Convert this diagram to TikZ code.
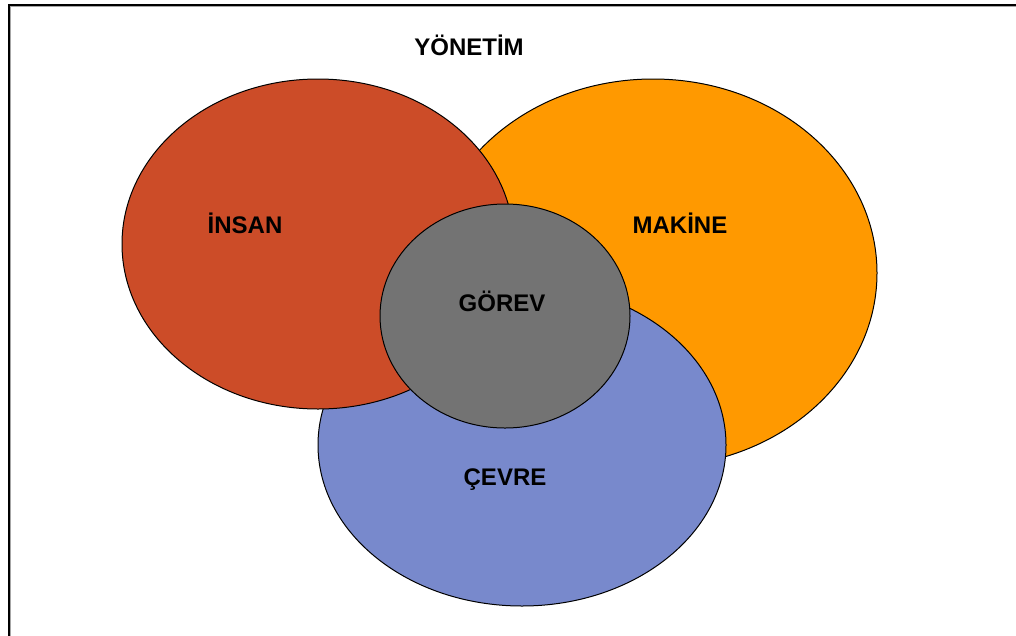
\documentclass[tikz,border=0pt]{standalone}
\usepackage{fontspec}
\setmainfont{Liberation Sans}
\usetikzlibrary{shapes.geometric}

\definecolor{insanred}{RGB}{204,76,40}
\definecolor{makineorange}{RGB}{255,153,0}
\definecolor{cevreblue}{RGB}{120,137,204}
\definecolor{gorevgrey}{RGB}{115,115,115}

\tikzset{
  area/.style={ellipse, draw=black, line width=1pt, inner sep=0pt},
  caption/.style={anchor=base, inner sep=0pt, font=\fontsize{24}{28}\selectfont\bfseries}
}

\begin{document}
\begin{tikzpicture}[x=1pt, y=-1pt]
  \useasboundingbox (0,0) rectangle (1016,635);

  % frame (open at the right and bottom)
  \coordinate (ftl) at (9,5);
  \coordinate (fbl) at (9,640);
  \coordinate (ftr) at (1020,5);
  \draw[line width=1.2pt, gray!70] ([shift={(1.3,1.3)}]fbl) -- ([shift={(1.3,1.3)}]ftl) -- ([shift={(1.3,1.3)}]ftr);
  \draw[line width=1.8pt, black] (fbl) -- (ftl) -- (ftr);

  % overlapping areas, back to front
  \node[area, fill=makineorange, minimum width=448pt, minimum height=388pt] (makine) at (653,273) {};
  \node[area, fill=cevreblue, minimum width=408pt, minimum height=322pt] (cevre) at (522,445) {};
  \node[area, fill=insanred, minimum width=392pt, minimum height=330pt] (insan) at (318,244) {};
  \node[area, fill=gorevgrey, minimum width=250pt, minimum height=224pt] (gorev) at (505,316) {};

  % labels
  \node[caption] (tyonetim) at (469,55) {YÖNETİM};
  \node[caption] (tinsan) at (245,233) {İNSAN};
  \node[caption] (tmakine) at (680,233) {MAKİNE};
  \node[caption] (tgorev) at (502,311) {GÖREV};
  \node[caption] (tcevre) at (505,485) {ÇEVRE};
\end{tikzpicture}
\end{document}
